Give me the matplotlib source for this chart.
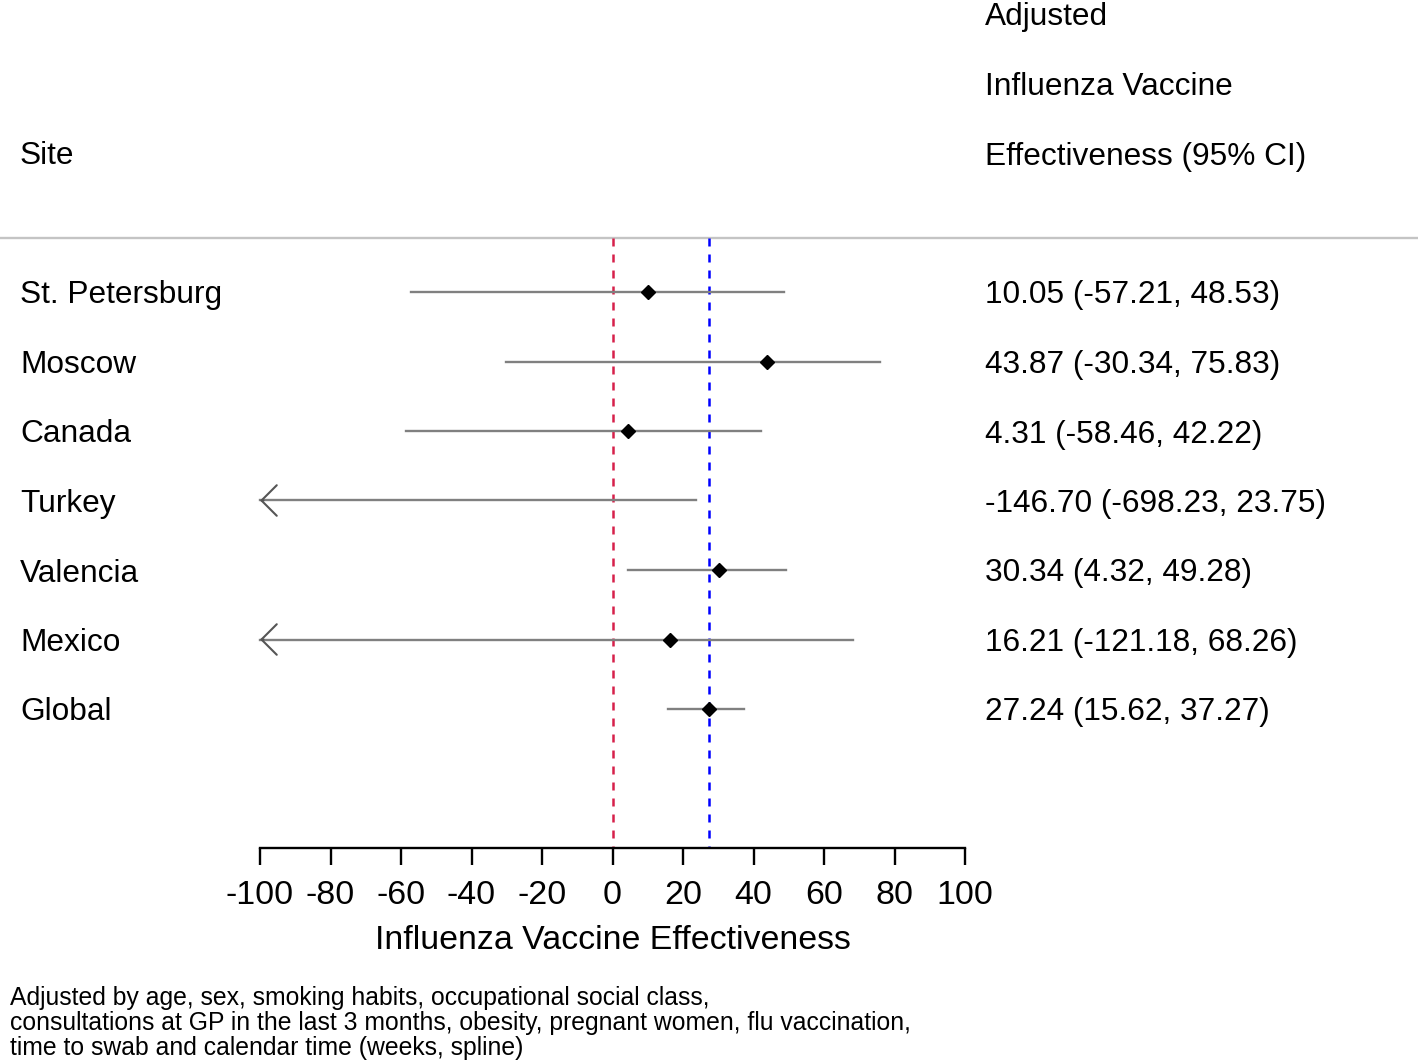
import matplotlib
matplotlib.use('Agg')
import matplotlib.pyplot as plt
import matplotlib.transforms as mtransforms

plt.rcParams['font.family'] = ['Liberation Sans', 'DejaVu Sans']

sites = ['St. Petersburg', 'Moscow', 'Canada', 'Turkey', 'Valencia', 'Mexico', 'Global']
ve = [10.05, 43.87, 4.31, -146.70, 30.34, 16.21, 27.24]
ci_low = [-57.21, -30.34, -58.46, -698.23, 4.32, -121.18, 15.62]
ci_high = [48.53, 75.83, 42.22, 23.75, 49.28, 68.26, 37.27]
ticks = [-100, -80, -60, -40, -20, 0, 20, 40, 60, 80, 100]
global_ve = 27.24

footnote = ('Adjusted by age, sex, smoking habits, occupational social class,\n'
            'consultations at GP in the last 3 months, obesity, pregnant women, flu vaccination,\n'
            'time to swab and calendar time (weeks, spline)')

W, H = 1418, 1064
fig = plt.figure(figsize=(W / 100, H / 100), dpi=100)
ax = fig.add_axes([0, 0, 1, 1])

# pixel layout: -100 -> 260px, 100 -> 965px ; row 0 -> 292px, row spacing 69.5px
px_per_unit = (965 - 260) / 200.0
x0 = 260 + 100 * px_per_unit
ax.set_xlim(-x0 / px_per_unit, (W - x0) / px_per_unit)
row_h = 69.5
ax.set_ylim((H - 292) / row_h, -292 / row_h)

axis_row = (848 - 292) / row_h
header_row = (238 - 292) / row_h
xmin = -100
fs = 22.8

fig_x = mtransforms.blended_transform_factory(fig.transFigure, ax.transData)

# header
ax.axhline(header_row, color='#c4c4c4', lw=1.7, zorder=1)
ax.text(20 / W, -2, 'Site', transform=fig_x, fontsize=fs, va='center_baseline', ha='left')
for i, s in enumerate(['Adjusted', 'Influenza Vaccine', 'Effectiveness (95% CI)']):
    ax.text(985 / W, -4 + i, s, transform=fig_x, fontsize=fs, va='center_baseline', ha='left')

# reference lines
ax.plot([0, 0], [header_row, axis_row], color='#d6204a', lw=1.8, dashes=(3.2, 3.2), zorder=2)
ax.plot([global_ve, global_ve], [header_row, axis_row], color='#0000ff', lw=1.8,
        dashes=(3.2, 3.2), zorder=2)

for i in range(len(sites)):
    lo = max(ci_low[i], xmin)
    ax.plot([lo, ci_high[i]], [i, i], color='#808080', lw=1.7, zorder=3)
    if ci_low[i] < xmin:
        # open arrowhead where the interval runs off the left edge
        ax.annotate('', xy=(xmin, i), xytext=(xmin + 1, i),
                    arrowprops=dict(arrowstyle='->,head_length=1.1,head_width=1.1',
                                    color='#555555', lw=1.5, shrinkA=0, shrinkB=0),
                    zorder=4)
    if ve[i] >= xmin:
        ax.plot(ve[i], i, marker='D', color='black', ms=7, zorder=5)
    ax.text(20 / W, i, sites[i], transform=fig_x, fontsize=fs, va='center_baseline', ha='left')
    label = f'{ve[i]:.2f} ({ci_low[i]:.2f}, {ci_high[i]:.2f})'
    ax.text(985 / W, i, label, transform=fig_x, fontsize=fs, va='center_baseline', ha='left')

# x axis
for sp in ['top', 'left', 'right']:
    ax.spines[sp].set_visible(False)
ax.spines['bottom'].set_position(('data', axis_row))
ax.spines['bottom'].set_bounds(-100, 100)
ax.spines['bottom'].set_linewidth(1.7)
ax.set_xticks(ticks)
ax.set_xticklabels([str(t) for t in ticks], fontsize=24.5)
ax.tick_params(axis='x', direction='out', length=12, width=1.7, pad=11)
ax.set_yticks([])
ax.text(0, (941 - 292) / row_h, 'Influenza Vaccine Effectiveness', fontsize=24.4,
        ha='center', va='center')

fig.text(10 / W, 1 - 986 / H, footnote, fontsize=17.8, ha='left', va='top', linespacing=1.04)

fig.savefig('out.png', dpi=100)
